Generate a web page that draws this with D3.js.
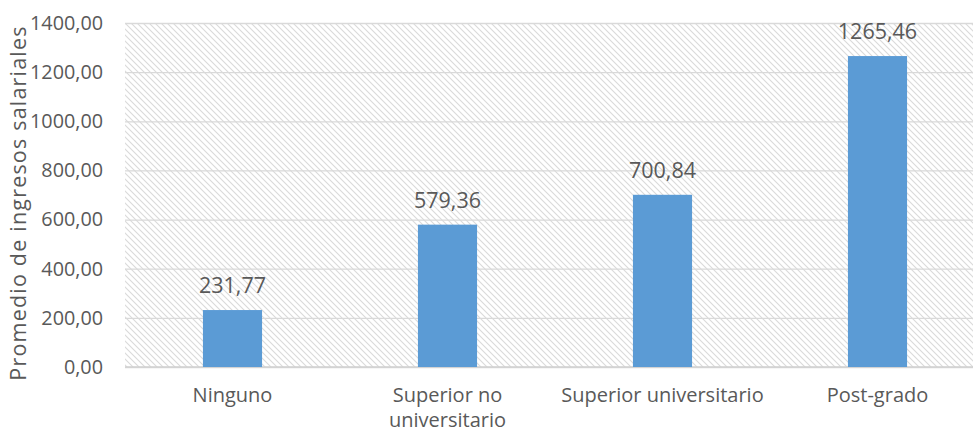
<!DOCTYPE html>
<html>
<head>
<meta charset="utf-8">
<script src="https://cdn.jsdelivr.net/npm/d3@7"></script>
<style>
  html, body { margin: 0; padding: 0; background: #fff; }
  svg { display: block; }
  text { font-family: "Open Sans", "Liberation Sans", sans-serif; fill: #595959; }
</style>
</head>
<body>
<svg id="chart" width="973" height="432"></svg>
<script>
// Average salary income by education level
const categories = ["Ninguno", "Superior no universitario", "Superior universitario", "Post-grado"];
const categoryLines = [["Ninguno"], ["Superior no", "universitario"], ["Superior universitario"], ["Post-grado"]];
const values = [231.77, 579.36, 700.84, 1265.46];
const yTicks = [0, 200, 400, 600, 800, 1000, 1200, 1400];
const yTitle = "Promedio de ingresos salariales";

const width = 973, height = 432;
const margin = { top: 23, left: 125 };
const plotW = 860, plotH = 344;

const svg = d3.select("#chart");
const fmt = v => v.toFixed(2).replace(".", ",");

// Diagonal hatch fill for the plot area
const defs = svg.append("defs");
const pat = defs.append("pattern")
  .attr("id", "hatch")
  .attr("patternUnits", "userSpaceOnUse")
  .attr("width", 6).attr("height", 6);
pat.append("rect").attr("width", 6).attr("height", 6).attr("fill", "#ffffff");
pat.append("path")
  .attr("d", "M-1,-1 L7,7 M-4,2 L2,8 M4,-2 L10,4")
  .attr("stroke", "#dadada")
  .attr("stroke-width", 1.1);

const g = svg.append("g").attr("transform", `translate(${margin.left},${margin.top})`);

const x = d3.scaleBand()
  .domain(categories)
  .range([0, plotW])
  .paddingInner(0.725)
  .paddingOuter(0.3625);

const y = d3.scaleLinear().domain([0, 1400]).range([plotH, 0]);

g.append("rect")
  .attr("x", 0).attr("y", 0)
  .attr("width", plotW).attr("height", plotH)
  .attr("fill", "url(#hatch)");

// Gridlines and tick labels
const yAxis = d3.axisLeft(y).tickValues(yTicks).tickSize(-plotW).tickFormat(fmt).tickPadding(22);
const ya = g.append("g").call(yAxis);
ya.select(".domain").remove();
ya.selectAll(".tick line").attr("stroke", "#d9d9d9").attr("stroke-width", 1.3);
ya.selectAll(".tick text").style("font-size", "19.8px").attr("fill", "#595959");

// Baseline
g.append("line")
  .attr("x1", 0).attr("x2", plotW)
  .attr("y1", y(0)).attr("y2", y(0))
  .attr("stroke", "#d0d0d0").attr("stroke-width", 1.3);

// Bars
g.selectAll(".bar")
  .data(values)
  .join("rect")
  .attr("class", "bar")
  .attr("x", (d, i) => x(categories[i]))
  .attr("y", d => y(d))
  .attr("width", x.bandwidth())
  .attr("height", d => y(0) - y(d))
  .attr("fill", "#5b9bd5");

// Value labels
g.selectAll(".val")
  .data(values)
  .join("text")
  .attr("class", "val")
  .attr("x", (d, i) => x(categories[i]) + x.bandwidth() / 2)
  .attr("y", d => y(d) - 17)
  .attr("text-anchor", "middle")
  .style("font-size", "21.5px")
  .text(fmt);

// Category labels, one text per wrapped line
const catLines = categories.flatMap((c, i) =>
  categoryLines[i].map((line, j) => ({ c, line, j })));
g.selectAll(".cat")
  .data(catLines)
  .join("text")
  .attr("class", "cat")
  .attr("x", d => x(d.c) + x.bandwidth() / 2)
  .attr("y", d => plotH + 35 + d.j * 25)
  .attr("text-anchor", "middle")
  .style("font-size", "20px")
  .text(d => d.line);

// Y axis title
svg.append("text")
  .attr("transform", `translate(26, 203) rotate(-90)`)
  .attr("text-anchor", "middle")
  .style("font-size", "21.5px")
  .style("letter-spacing", "1.2px")
  .text(yTitle);
</script>
</body>
</html>
